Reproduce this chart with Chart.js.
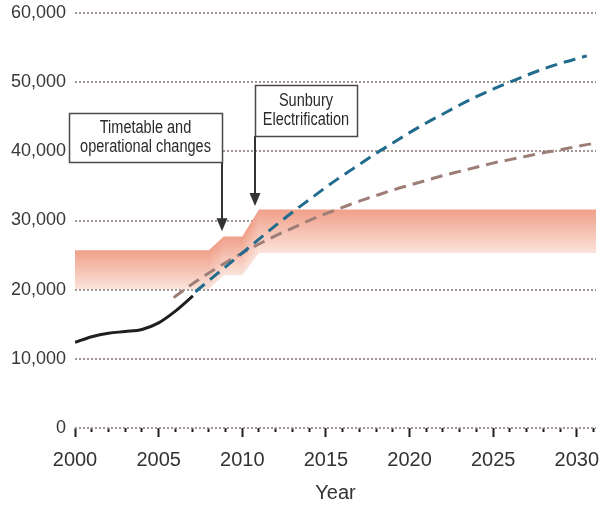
<!DOCTYPE html>
<html>
<head>
<meta charset="utf-8">
<script src="https://cdn.jsdelivr.net/npm/chart.js@4/dist/chart.umd.min.js"></script>
<style>
  html, body { margin: 0; padding: 0; background: #ffffff; }
  #wrap { width: 603px; height: 506px; }
</style>
</head>
<body>
<div id="wrap"><canvas id="chart" width="603" height="506"></canvas></div>
<script>
// Daily patronage: recorded values and two projections
const actualYears = [2000, 2001, 2002, 2003, 2004, 2005, 2006, 2007.05];
const actualValues = [12400, 13200, 13700, 13950, 14250, 15200, 16900, 19100];

const highYears = [2007.2, 2008, 2009, 2010, 2011, 2012, 2013, 2014, 2015, 2016, 2017, 2018, 2019,
  2020, 2021, 2022, 2023, 2024, 2025, 2026, 2027, 2028, 2029, 2030, 2030.6];
const highValues = [19700, 21300, 23300, 25300, 27300, 29300, 31200, 33000, 34800, 36500, 38100, 39700, 41200,
  42700, 44100, 45400, 46700, 47900, 49000, 50000, 51000, 51900, 52700, 53400, 53800];

const lowYears = [2005.9, 2007, 2008, 2009, 2010, 2011, 2012, 2013, 2014, 2015, 2016, 2017, 2018, 2019,
  2020, 2021, 2022, 2023, 2024, 2025, 2026, 2027, 2028, 2029, 2030, 2030.9];
const lowValues = [18850, 20800, 22400, 23900, 25300, 26600, 27800, 28900, 30000, 31000, 31900, 32800, 33600, 34400,
  35100, 35800, 36500, 37100, 37700, 38300, 38800, 39300, 39800, 40200, 40700, 41100];

// Line capacity band (upper and lower edge)
const capacityYears = [2000, 2008, 2008.9, 2010, 2011, 2031.15];
const capacityUpper = [25700, 25700, 27700, 27700, 31600, 31600];
const capacityLower = [20100, 20100, 22100, 22100, 25300, 25300];

// Axis ticks
const yearMin = 2000;
const yearMax = 2031.15;
const yTickValues = [0, 10000, 20000, 30000, 40000, 50000, 60000];

const toPoints = (xs, ys) => xs.map((x, i) => ({ x: x, y: ys[i] }));

// Callout boxes with arrows, placed in data coordinates
const callouts = [
  { lines: ['Timetable and', 'operational changes'], left: 1999.64, right: 2008.79, top: 45500, bottom: 38450,
    arrowX: 2008.79, tipY: 28450 },
  { lines: ['Sunbury', 'Electrification'], left: 2010.76, right: 2016.86, top: 49550, bottom: 42200,
    arrowX: 2010.76, tipY: 32100 }
];

const BAND_DARK = '#f09f89';
const BAND_LIGHT = '#fbe3da';

// Edge of the band at a given year (straight segments between the band's corner points)
function edgeAt(xs, ys, x) {
  if (x <= xs[0]) return ys[0];
  for (let i = 1; i < xs.length; i++) {
    if (x <= xs[i]) {
      const f = (x - xs[i - 1]) / (xs[i] - xs[i - 1]);
      return ys[i - 1] + f * (ys[i] - ys[i - 1]);
    }
  }
  return ys[ys.length - 1];
}

// Fill style for the band: every column fades from its upper edge to its lower edge
let bandCache = null;
function bandFill(ctx) {
  const chart = ctx.chart;
  const area = chart.chartArea;
  const xs = chart.scales && chart.scales.x, ys = chart.scales && chart.scales.y;
  if (!area || !xs || !ys) return BAND_DARK;
  const key = [area.left, area.top, area.right, area.bottom].join(',');
  if (bandCache && bandCache.key === key) return bandCache.pattern;
  const off = document.createElement('canvas');
  off.width = chart.width;
  off.height = chart.height;
  const g = off.getContext('2d');
  for (let px = Math.floor(area.left) - 1; px <= Math.ceil(area.right); px++) {
    const yr = xs.getValueForPixel(px + 0.5);
    const t = ys.getPixelForValue(edgeAt(capacityYears, capacityUpper, yr));
    const b = ys.getPixelForValue(edgeAt(capacityYears, capacityLower, yr));
    const grad = g.createLinearGradient(0, t, 0, b);
    grad.addColorStop(0, BAND_DARK);
    grad.addColorStop(1, BAND_LIGHT);
    g.fillStyle = grad;
    g.fillRect(px, t - 3, 1, b - t + 6);
  }
  const pattern = chart.ctx.createPattern(off, 'no-repeat');
  bandCache = { key: key, pattern: pattern };
  return pattern;
}

const calloutPlugin = {
  id: 'callouts',
  afterDatasetsDraw(chart) {
    const { ctx } = chart;
    const xs = chart.scales.x, ys = chart.scales.y;
    ctx.save();
    callouts.forEach(c => {
      const l = xs.getPixelForValue(c.left), r = xs.getPixelForValue(c.right);
      const t = ys.getPixelForValue(c.top), b = ys.getPixelForValue(c.bottom);
      const ax = Math.round(xs.getPixelForValue(c.arrowX));
      const tip = ys.getPixelForValue(c.tipY);
      // arrow shaft
      ctx.strokeStyle = '#333333';
      ctx.lineWidth = 2;
      ctx.beginPath();
      ctx.moveTo(ax, b);
      ctx.lineTo(ax, tip - 10);
      ctx.stroke();
      // arrow head
      ctx.fillStyle = '#333333';
      ctx.beginPath();
      ctx.moveTo(ax - 5.5, tip - 13);
      ctx.lineTo(ax + 5.5, tip - 13);
      ctx.lineTo(ax, tip);
      ctx.closePath();
      ctx.fill();
      // box
      ctx.fillStyle = '#ffffff';
      ctx.fillRect(l, t, r - l, b - t);
      ctx.strokeStyle = '#4a4a4a';
      ctx.lineWidth = 1.5;
      ctx.strokeRect(Math.round(l) + 0.5, Math.round(t) + 0.5, Math.round(r - l), Math.round(b - t));
      // text, in a condensed face
      ctx.fillStyle = '#2a2a2a';
      ctx.font = '17.5px "Liberation Sans", Arial, sans-serif';
      ctx.textAlign = 'center';
      ctx.textBaseline = 'middle';
      const cx = (l + r) / 2, cy = (t + b) / 2;
      const lh = 19;
      c.lines.forEach((s, i) => {
        ctx.save();
        ctx.translate(cx, cy + (i - (c.lines.length - 1) / 2) * lh);
        ctx.scale(0.83, 1);
        ctx.fillText(s, 0, 0);
        ctx.restore();
      });
    });
    ctx.restore();
  }
};

Chart.defaults.font.family = '"Liberation Sans", Arial, Helvetica, sans-serif';
Chart.defaults.color = '#363636';

new Chart(document.getElementById('chart'), {
  type: 'line',
  data: {
    datasets: [
      {
        label: 'Actual',
        data: toPoints(actualYears, actualValues),
        borderColor: '#1f1f1f',
        borderWidth: 3,
        pointRadius: 0,
        cubicInterpolationMode: 'monotone',
        fill: false
      },
      {
        label: 'High projection',
        data: toPoints(highYears, highValues),
        borderColor: '#216b8c',
        borderWidth: 3,
        borderDash: [12, 7],
        pointRadius: 0,
        cubicInterpolationMode: 'monotone',
        fill: false
      },
      {
        label: 'Low projection',
        data: toPoints(lowYears, lowValues),
        borderColor: '#9d7e77',
        borderWidth: 3,
        borderDash: [12, 7],
        pointRadius: 0,
        cubicInterpolationMode: 'monotone',
        fill: false
      },
      {
        label: 'Capacity (upper)',
        data: toPoints(capacityYears, capacityUpper),
        borderWidth: 0,
        borderColor: 'rgba(0,0,0,0)',
        pointRadius: 0,
        tension: 0,
        fill: '+1',
        backgroundColor: bandFill
      },
      {
        label: 'Capacity (lower)',
        data: toPoints(capacityYears, capacityLower),
        borderWidth: 0,
        borderColor: 'rgba(0,0,0,0)',
        pointRadius: 0,
        tension: 0,
        fill: false
      }
    ]
  },
  options: {
    responsive: false,
    animation: false,
    devicePixelRatio: 1,
    layout: { padding: { top: 13, right: 7, bottom: 1, left: 0 } },
    plugins: {
      legend: { display: false },
      tooltip: { enabled: false }
    },
    scales: {
      x: {
        type: 'linear',
        min: yearMin,
        max: yearMax,
        border: { display: false },
        grid: {
          drawOnChartArea: false,
          drawTicks: true,
          tickLength: 9,
          tickWidth: 2,
          tickColor: '#1e1e1e',
          tickBorderDash: c => (c.tick && Math.round(c.tick.value) % 5 === 0) ? [] : [4, 30]
        },
        ticks: {
          stepSize: 1,
          includeBounds: false,
          autoSkip: false,
          maxRotation: 0,
          padding: 11,
          color: '#333333',
          font: { size: 20 },
          callback: v => (Math.round(v) % 5 === 0 ? String(Math.round(v)) : '')
        },
        title: {
          display: true,
          text: 'Year',
          color: '#333333',
          font: { size: 20 },
          padding: { top: 0, bottom: 0 }
        },
        afterFit: s => { s.height = 77; s.paddingLeft = 0; s.paddingRight = 0; }
      },
      y: {
        type: 'linear',
        min: 0,
        max: 60000,
        border: { display: false, dash: [2, 2] },
        grid: {
          color: '#a3958f',
          lineWidth: 2,
          drawTicks: false
        },
        afterBuildTicks: s => { s.ticks = yTickValues.map(v => ({ value: v })); },
        ticks: {
          padding: 9,
          color: '#383838',
          font: { size: 18 },
          callback: v => Number(v).toLocaleString('en-US')
        },
        afterFit: s => { s.width = 75; s.paddingTop = 0; s.paddingBottom = 0; }
      }
    }
  },
  plugins: [calloutPlugin]
});
</script>
</body>
</html>
